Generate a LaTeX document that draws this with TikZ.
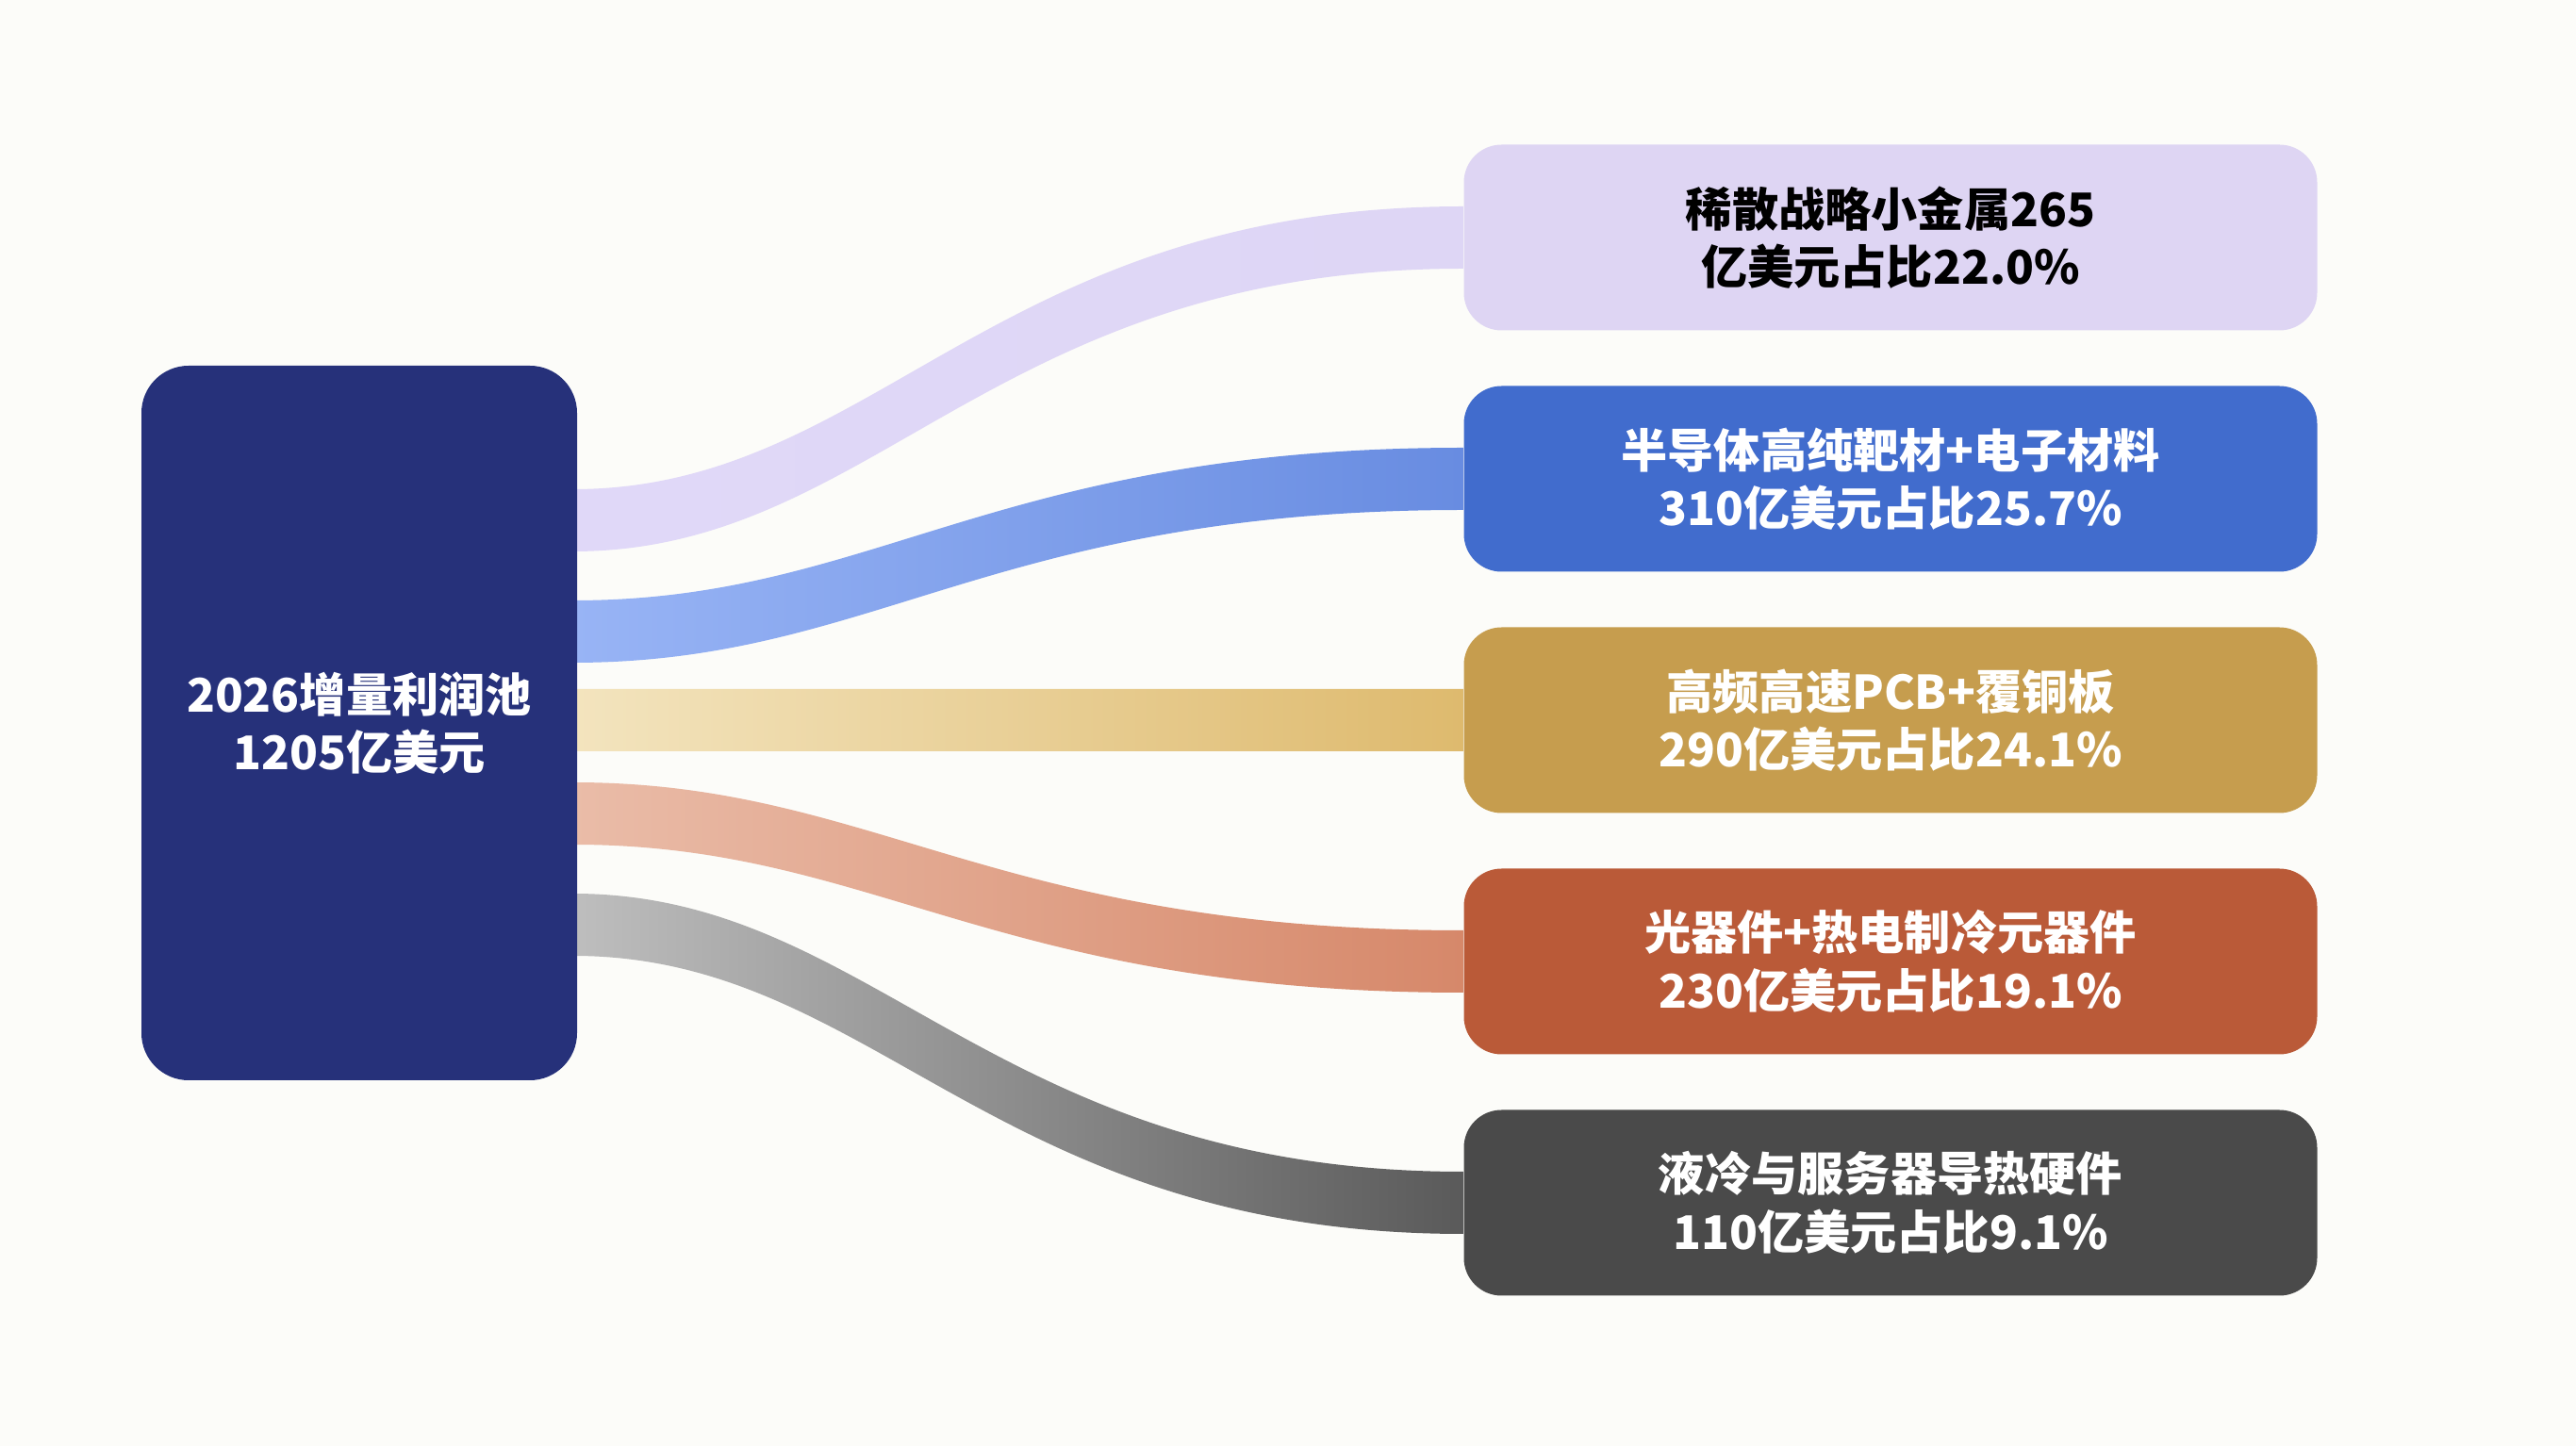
\documentclass[tikz,border=0pt]{standalone}
\usepackage{fontspec}
\newfontfamily\cjkfont{Noto Sans CJK SC}
\usetikzlibrary{calc,backgrounds}

\definecolor{paper}{RGB}{252,252,249}
\definecolor{poolblue}{RGB}{38,49,122}
\definecolor{metalfill}{RGB}{222,213,243}
\definecolor{semifill}{RGB}{65,108,205}
\definecolor{pcbfill}{RGB}{198,157,78}
\definecolor{optofill}{RGB}{186,90,56}
\definecolor{coolfill}{RGB}{74,74,74}
% band colours, left end and right end
\definecolor{metalL}{RGB}{224,216,248}
\definecolor{metalR}{RGB}{222,214,245}
\definecolor{semiL}{RGB}{152,180,245}
\definecolor{semiR}{RGB}{104,140,225}
\definecolor{pcbL}{RGB}{243,228,190}
\definecolor{pcbR}{RGB}{222,186,110}
\definecolor{optoL}{RGB}{234,188,168}
\definecolor{optoR}{RGB}{214,136,106}
\definecolor{coolL}{RGB}{190,190,190}
\definecolor{coolR}{RGB}{90,90,90}

% one band from a start coordinate to the west side of a node
\newcommand{\flowband}[4]{%
	\shade[left color=#3, right color=#4]
		([yshift=3.3mm]#1) .. controls +(3.2,0) and +(-5,0) .. ([yshift=3.3mm]#2.west)
		-- ([yshift=-3.3mm]#2.west) .. controls +(-5,0) and +(3.2,0) .. ([yshift=-3.3mm]#1)
		-- cycle;}

\begin{document}
\begin{tikzpicture}[
		box/.style={rounded corners=4mm, minimum width=9.05cm, minimum height=1.97cm,
			align=center, text=white, inner sep=0pt,
			font=\cjkfont\bfseries\fontsize{14}{17.5}\selectfont},
	]
	% Canvas
	\useasboundingbox (0,0) rectangle (27.32,-15.34);
	
	% Profit pool on the left
	\node[box, rounded corners=5mm, fill=poolblue, minimum width=4.62cm, minimum height=7.58cm]
		(pool) at (3.81,-7.67) {2026增量利润池\\1205亿美元};
	
	% Five segments on the right
	\node[box, fill=metalfill, text=black] (metal) at (20.05,-2.52) {稀散战略小金属265\\亿美元占比22.0\%};
	\node[box, fill=semifill] (semi) at (20.05,-5.08) {半导体高纯靶材+电子材料\\310亿美元占比25.7\%};
	\node[box, fill=pcbfill] (pcb) at (20.05,-7.64) {高频高速PCB+覆铜板\\290亿美元占比24.1\%};
	\node[box, fill=optofill] (opto) at (20.05,-10.20) {光器件+热电制冷元器件\\230亿美元占比19.1\%};
	\node[box, fill=coolfill] (cool) at (20.05,-12.76) {液冷与服务器导热硬件\\110亿美元占比9.1\%};
	
	% Where the bands leave the pool
	\coordinate (s1) at ($(pool.east)+(-0.05,2.15)$);
	\coordinate (s2) at ($(pool.east)+(-0.05,0.97)$);
	\coordinate (s3) at ($(pool.east)+(-0.05,0.03)$);
	\coordinate (s4) at ($(pool.east)+(-0.05,-0.96)$);
	\coordinate (s5) at ($(pool.east)+(-0.05,-2.14)$);
	
	% Bands, behind the boxes
	\begin{scope}[on background layer]
		\fill[paper] (0,0) rectangle (27.32,-15.34);
		\flowband{s1}{metal}{metalL}{metalR}
		\flowband{s2}{semi}{semiL}{semiR}
		\flowband{s3}{pcb}{pcbL}{pcbR}
		\flowband{s4}{opto}{optoL}{optoR}
		\flowband{s5}{cool}{coolL}{coolR}
	\end{scope}
\end{tikzpicture}
\end{document}
